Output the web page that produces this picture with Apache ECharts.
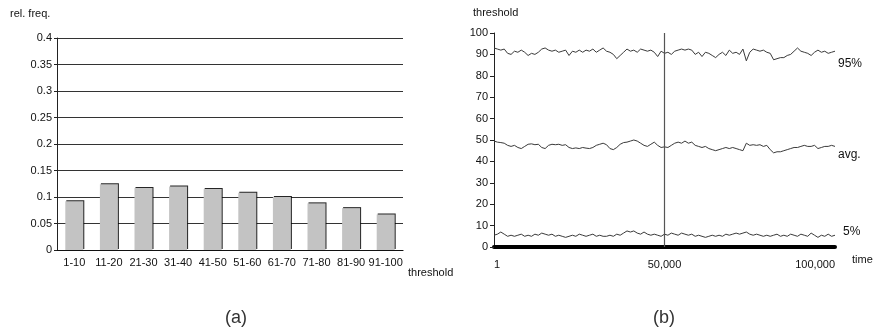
<!DOCTYPE html>
<html>
<head>
<meta charset="utf-8">
<style>
  html, body { margin: 0; padding: 0; background: #fff; }
  #chart { width: 878px; height: 333px; }
</style>
<script src="https://cdn.jsdelivr.net/npm/echarts@6/dist/echarts.min.js"></script>
</head>
<body>
<div id="chart"></div>
<script>
// (a) relative frequency of thresholds
const bins = ['1-10', '11-20', '21-30', '31-40', '41-50', '51-60', '61-70', '71-80', '81-90', '91-100']
const relFreq = [0.092, 0.124, 0.117, 0.120, 0.115, 0.108, 0.100, 0.088, 0.079, 0.067]

// (b) threshold over time, one sample every 1,000 steps
const sampleStep = 1000
const p95 = [
  93, 92.5, 92, 92.5, 90.5, 90, 91.5, 91, 92, 91,
  89.5, 90.5, 90, 91, 92.5, 93, 92, 91.5, 92, 91,
  91.5, 92, 89.5, 91.5, 91, 92, 91, 92, 91.5, 92.5,
  91, 92, 93, 91.5, 91, 90, 88, 89.5, 91, 92.5,
  91.5, 92, 91, 92.5, 92, 91.5, 92, 91, 89, 91.5,
  90.5, 91, 90, 91.5, 92, 92.5, 92, 92.5, 92, 90,
  91, 89, 91, 90.5, 89.5, 88.5, 90, 91, 89.5, 92,
  90.5, 91, 90, 92.5, 87, 91, 92.5, 92, 91.5, 92,
  91, 90.5, 87.5, 88, 88.5, 88.5, 89.5, 90, 91.5, 93,
  91.5, 91, 90.5, 89.5, 91, 92, 91, 91.5, 90.5, 91,
  91.5
]
const avg = [
  49.5, 49, 48.8, 48.5, 47.5, 47, 47.5, 46.5, 46, 47,
  48, 48.2, 47.8, 48, 46.5, 46, 47.5, 48, 47.8, 48,
  47.5, 47.8, 46.5, 46, 46.3, 46, 46.5, 46.2, 46, 46.5,
  47.5, 48, 48.5, 47.8, 46, 45.5, 46.5, 48, 48.8, 49,
  49.5, 50, 49.5, 48.5, 47.5, 47, 48, 49, 47.5, 46.5,
  46.8, 46.5, 47.5, 48.5, 49, 48.5, 49.5, 48.5, 49, 47.5,
  47, 46.5, 47, 46, 45.5, 45, 45.5, 46, 46.5, 46,
  46.5, 46, 45.5, 45, 48.5, 47.5, 47.8, 47.5, 47.8, 47,
  47.5, 45.5, 44, 44.5, 44.5, 45, 45.5, 46, 46.5, 46.5,
  47, 47.5, 47, 47, 47.5, 46, 46.5, 47, 47, 47.5,
  47
]
const p5 = [
  5.5, 6, 7, 6, 5, 5.5, 5, 5.5, 6, 5,
  5.5, 5, 6, 5.5, 6.5, 6, 5.5, 6, 5, 5.5,
  5, 4.5, 5, 5.5, 5, 6, 5.5, 5, 5.5, 6,
  5, 5.5, 5, 5, 5.5, 5, 6, 5.5, 6.5, 7.5,
  7, 7.5, 6.5, 6, 7, 6, 5.5, 6, 5.5, 5,
  6, 5.5, 6.5, 6, 5.5, 6.5, 6, 5.5, 6, 5,
  5.5, 5, 4.5, 5, 5.5, 5, 5.5, 5, 6, 5.5,
  6, 6.5, 6, 6.5, 7, 6, 5.5, 6, 5.5, 5,
  5.5, 5, 5.5, 6, 5, 5.5, 5, 6, 5.5, 5,
  6, 5.5, 5, 6.5, 5.5, 4.5, 5.5, 5, 6, 5,
  5.5
]
const timeTicks = { 0: '1', 50000: '50,000', 100000: '100,000' }

const toPairs = values => values.map((v, i) => [i * sampleStep, v])

const font = 'Liberation Sans, Arial, sans-serif'
const tickText = { color: '#111', fontSize: 11, fontFamily: font }

const chart = echarts.init(document.getElementById('chart'))

chart.setOption({
  animation: false,
  backgroundColor: '#fff',
  grid: [
    { left: 57, right: 475, top: 38, bottom: 83 },
    { left: 494, right: 43, top: 33, bottom: 86 },
  ],
  xAxis: [
    {
      gridIndex: 0,
      type: 'category',
      data: bins,
      axisLine: { lineStyle: { color: '#111', width: 1.2 } },
      axisTick: { show: false },
      axisLabel: { ...tickText, margin: 7, interval: 0 },
    },
    {
      gridIndex: 1,
      type: 'value',
      min: 0,
      max: 100000,
      interval: 50000,
      axisLine: { lineStyle: { color: '#000', width: 4 } },
      axisTick: { show: false },
      splitLine: { show: false },
      axisLabel: {
        ...tickText,
        margin: 12,
        alignMinLabel: 'left',
        alignMaxLabel: 'right',
        formatter: v => timeTicks[v] || '',
      },
    },
  ],
  yAxis: [
    {
      gridIndex: 0,
      type: 'value',
      min: 0,
      max: 0.4,
      interval: 0.05,
      axisLine: { show: true, lineStyle: { color: '#222' } },
      axisTick: { show: true, length: 3, lineStyle: { color: '#222' } },
      axisLabel: { ...tickText, margin: 5 },
      splitLine: { lineStyle: { color: '#333', width: 1 } },
    },
    {
      gridIndex: 1,
      type: 'value',
      min: 0,
      max: 100,
      interval: 10,
      axisLine: { show: true, lineStyle: { color: '#222' } },
      axisTick: { show: true, length: 4, lineStyle: { color: '#222' } },
      axisLabel: { ...tickText, margin: 6 },
      splitLine: { show: false },
    },
  ],
  series: [
    {
      type: 'bar',
      xAxisIndex: 0,
      yAxisIndex: 0,
      data: relFreq,
      barWidth: '52%',
      itemStyle: {
        color: '#c3c3c3',
        shadowColor: 'rgba(0,0,0,0.85)',
        shadowOffsetX: 1,
        shadowOffsetY: -1,
        shadowBlur: 0,
      },
    },
    {
      type: 'line',
      xAxisIndex: 1,
      yAxisIndex: 1,
      data: toPairs(p95),
      symbol: 'none',
      lineStyle: { color: '#3a3a3a', width: 1 },
      markLine: {
        symbol: 'none',
        silent: true,
        label: { show: false },
        lineStyle: { color: '#555', width: 1.2, type: 'solid' },
        data: [{ xAxis: 50000 }],
      },
    },
    {
      type: 'line',
      xAxisIndex: 1,
      yAxisIndex: 1,
      data: toPairs(avg),
      symbol: 'none',
      lineStyle: { color: '#3a3a3a', width: 1 },
    },
    {
      type: 'line',
      xAxisIndex: 1,
      yAxisIndex: 1,
      data: toPairs(p5),
      symbol: 'none',
      lineStyle: { color: '#3a3a3a', width: 1 },
    },
  ],
  graphic: [
    { type: 'text', left: 10, top: 8, style: { text: 'rel. freq.', fill: '#111', fontSize: 11, fontFamily: font } },
    { type: 'text', left: 408, top: 267, style: { text: 'threshold', fill: '#111', fontSize: 11, fontFamily: font } },
    { type: 'text', left: 473, top: 7, style: { text: 'threshold', fill: '#111', fontSize: 11, fontFamily: font } },
    { type: 'text', left: 852, top: 254, style: { text: 'time', fill: '#111', fontSize: 11, fontFamily: font } },
    { type: 'text', left: 838, top: 58, style: { text: '95%', fill: '#111', fontSize: 12, fontFamily: font } },
    { type: 'text', left: 838, top: 149, style: { text: 'avg.', fill: '#111', fontSize: 12, fontFamily: font } },
    { type: 'text', left: 843, top: 226, style: { text: '5%', fill: '#111', fontSize: 12, fontFamily: font } },
    { type: 'text', left: 225, top: 309, style: { text: '(a)', fill: '#333', fontSize: 18, fontFamily: font } },
    { type: 'text', left: 653, top: 309, style: { text: '(b)', fill: '#333', fontSize: 18, fontFamily: font } },
  ],
})
</script>
</body>
</html>
